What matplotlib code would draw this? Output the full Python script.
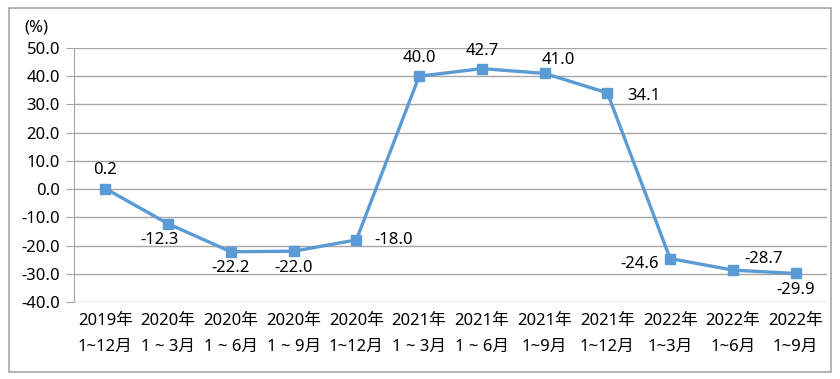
import matplotlib.pyplot as plt
from matplotlib.patches import Rectangle

plt.rcParams['font.family'] = ['Noto Sans', 'Noto Sans CJK SC', 'DejaVu Sans']

periods = ["2019年\n1~12月", "2020年\n1 ~ 3月", "2020年\n1 ~ 6月", "2020年\n1 ~ 9月",
           "2020年\n1~12月", "2021年\n1 ~ 3月", "2021年\n1 ~ 6月", "2021年\n1~9月",
           "2021年\n1~12月", "2022年\n1~3月", "2022年\n1~6月", "2022年\n1~9月"]
growth = [0.2, -12.3, -22.2, -22.0, -18.0, 40.0, 42.7, 41.0, 34.1, -24.6, -28.7, -29.9]
# label offsets in points (dx, dy)
label_offsets = [(0, 13), (-6, -12), (0, -12), (0, -12), (27, 0), (0, 13),
                 (0, 13), (10, 10), (26, -2), (-22, -4), (22, 8), (0, -12)]

fig = plt.figure(figsize=(8.4, 3.79), dpi=100)
fig.patches.append(Rectangle((9 / 840, 1 - 372 / 379), 822 / 840, 364 / 379,
                             transform=fig.transFigure, fill=False,
                             edgecolor="#a6a6a6", linewidth=1.2))
ax = fig.add_axes([74 / 840, 1 - 302 / 379, 753 / 840, 254 / 379])

x = list(range(len(growth)))
ax.plot(x, growth, color="#5b9bd5", linewidth=2.4, marker="s", markersize=6.5,
        zorder=3)

for xi, v, (dx, dy) in zip(x, growth, label_offsets):
    ax.annotate(f"{v:.1f}", (xi, v), xytext=(dx, dy), textcoords="offset points",
                ha="center", va="center", fontsize=12, color="#000000")

ax.set_xlim(-0.5, len(growth) - 0.5)
ax.set_ylim(-40, 50)
ax.set_yticks(range(-40, 51, 10))
ax.set_yticklabels([f"{t:.1f}" for t in range(-40, 51, 10)], fontsize=12)
ax.set_xticks(x)
ax.set_xticklabels(periods, fontsize=12, linespacing=1.8)
ax.tick_params(axis="x", length=0, pad=8)
ax.tick_params(axis="y", length=6, color="#a6a6a6", pad=4)
ax.grid(axis="y", color="#a6a6a6", linewidth=1)
for s in ["top", "right", "bottom"]:
    ax.spines[s].set_visible(False)
ax.spines["left"].set_color("#a6a6a6")

fig.text(36 / 840, 1 - 28 / 379, "(%)", fontsize=12, ha="center", va="center")

plt.savefig("out.png", dpi=100)
